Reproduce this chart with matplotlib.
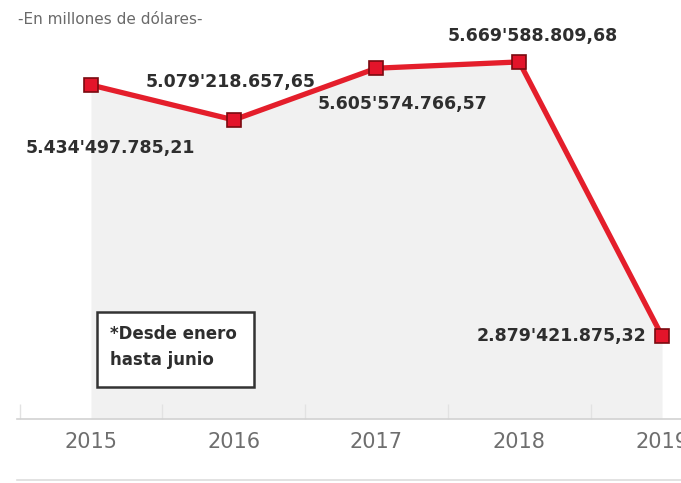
import matplotlib
matplotlib.use('Agg')
import matplotlib.pyplot as plt
from matplotlib.lines import Line2D
from matplotlib.patches import Rectangle

# Data (millones de dolares)
years = ['2015', '2016', '2017', '2018', '2019']
values = [5434497785.21, 5079218657.65, 5605574766.57, 5669588809.68, 2879421875.32]
labels = ["5.434'497.785,21", "5.079'218.657,65", "5.605'574.766,57",
          "5.669'588.809,68", "2.879'421.875,32"]
# label offsets in pixels relative to each point
offsets = [(19, -63), (-3, 38), (26, -36), (14, 26), (-16, 0)]
aligns = ['center', 'center', 'center', 'center', 'right']

x = list(range(len(years)))
y = [v / 1e9 for v in values]

fig = plt.figure(figsize=(6.81, 4.83), dpi=100)
W, H = 681, 483
ax = fig.add_axes([17 / W, 64 / H, 1 - 17 / W, 1 - 64 / H])

ymin, ymax = 2.034, 6.30
ax.set_xlim(-0.518, 4.133)
ax.set_ylim(ymin, ymax)

ax.fill_between(x, y, ymin, color='#f1f1f1', lw=0, zorder=1)
ax.plot(x, y, color='#e41e2b', lw=3.8, zorder=3, solid_joinstyle='miter')
ax.plot(x, y, ls='none', marker='s', ms=10.5, mfc='#e3142a', mec='#7a0a10',
        mew=1.2, zorder=4)

for xi, yi, lab, off, ha in zip(x, y, labels, offsets, aligns):
    ax.annotate(lab, (xi, yi), xytext=off, textcoords='offset pixels',
                ha=ha, va='center', fontsize=12.5, fontweight='bold',
                color='#2e2e2e', zorder=5)

# axes styling
for s in ['top', 'right', 'left']:
    ax.spines[s].set_visible(False)
ax.spines['bottom'].set_color('#d2d2d2')
ax.spines['bottom'].set_linewidth(1.2)
ax.set_yticks([])
ax.set_xticks(x)
ax.set_xticklabels(years, fontsize=15, color='#6e6e6e')
ax.set_xticks([-0.5, 0.5, 1.5, 2.5, 3.5], minor=True)
ax.tick_params(axis='x', which='major', length=0, pad=9)
ax.tick_params(axis='x', which='minor', direction='in', length=11,
               color='#e2e2e2', width=1.0)

# note box
ax.add_patch(Rectangle((97, H - 387), 157, 75, transform=None, fill=True,
                       facecolor='white', edgecolor='#333333', lw=1.8, zorder=6))
fig.text(110 / W, 1 - 334 / H, '*Desde enero', fontsize=12, fontweight='bold',
         color='#2e2e2e', va='center', zorder=7)
fig.text(110 / W, 1 - 360 / H, 'hasta junio', fontsize=12, fontweight='bold',
         color='#2e2e2e', va='center', zorder=7)

# subtitle
fig.text(18 / W, 1 - 19 / H, '-En millones de dólares-', fontsize=11,
         color='#6a6a6a', va='center')

# bottom rule
fig.add_artist(Line2D([17 / W, 1], [1 - 480 / H, 1 - 480 / H],
                      color='#dddddd', lw=1.2))

fig.savefig('out.png', dpi=100)
